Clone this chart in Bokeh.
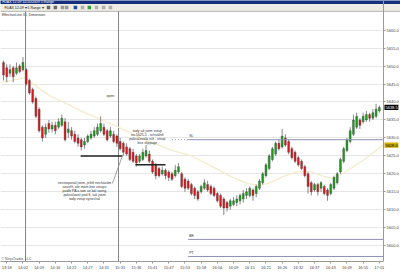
from bokeh.plotting import figure
from bokeh.models import Range1d, FixedTicker, NumeralTickFormatter, ColumnDataSource
from bokeh.core.properties import value
from bokeh.embed import file_html
from bokeh.resources import INLINE

# ---------------- data ----------------
opens = [5651.0, 5649.5, 5648.0, 5649.5, 5648.0, 5650.0, 5649.0, 5649.0, 5646.0, 5643.5,
         5641.0, 5638.0, 5633.0, 5631.0, 5634.0, 5632.5, 5633.5, 5633.0, 5633.5, 5634.5,
         5631.5, 5632.0, 5631.0, 5630.0, 5629.5, 5628.0, 5629.0, 5630.0, 5630.5, 5631.0,
         5632.0, 5633.0, 5632.0, 5630.5, 5631.0, 5630.5, 5629.0, 5628.5, 5627.5, 5627.0,
         5626.0, 5625.0, 5623.5, 5624.0, 5625.0, 5625.5, 5623.5, 5622.5, 5621.5, 5620.0,
         5621.0, 5620.5, 5620.0, 5619.5, 5620.5, 5620.0, 5618.5, 5618.0, 5617.0, 5616.0,
         5615.0, 5615.0, 5616.0, 5617.0, 5616.5, 5616.0, 5614.5, 5614.0, 5613.0, 5612.0,
         5611.0, 5611.5, 5612.0, 5612.5, 5613.0, 5614.0, 5614.0, 5615.5, 5614.5, 5616.0,
         5617.5, 5619.5, 5621.5, 5624.0, 5625.5, 5628.5, 5627.5, 5630.0, 5629.0, 5627.0,
         5626.0, 5624.5, 5623.5, 5622.0, 5620.0, 5617.5, 5615.5, 5617.0, 5616.0, 5616.5,
         5615.5, 5614.5, 5616.0, 5617.5, 5620.5, 5623.5, 5626.5, 5629.0, 5631.0, 5633.0,
         5635.0, 5634.5, 5635.0, 5636.5, 5635.5, 5636.0, 5637.5]
highs = [5651.5, 5650.5, 5650.5, 5650.0, 5651.0, 5650.5, 5652.5, 5649.5, 5646.5, 5644.0,
         5641.5, 5638.5, 5633.5, 5634.0, 5635.0, 5634.5, 5634.5, 5635.5, 5636.5, 5635.5,
         5634.5, 5633.0, 5632.0, 5631.0, 5630.0, 5630.0, 5631.0, 5632.0, 5633.0, 5634.0,
         5636.0, 5634.0, 5632.5, 5633.0, 5632.0, 5631.0, 5630.0, 5629.0, 5628.5, 5627.5,
         5627.0, 5625.5, 5625.5, 5627.0, 5628.0, 5626.5, 5624.0, 5623.0, 5622.0, 5622.0,
         5621.5, 5621.0, 5620.5, 5622.5, 5623.0, 5620.5, 5619.0, 5618.5, 5617.5, 5616.5,
         5615.5, 5617.0, 5618.5, 5618.0, 5617.0, 5616.5, 5615.0, 5614.5, 5613.5, 5612.5,
         5613.0, 5613.5, 5614.0, 5614.5, 5615.5, 5616.0, 5616.5, 5616.0, 5617.0, 5618.5,
         5620.5, 5623.0, 5625.5, 5627.5, 5629.0, 5629.5, 5632.5, 5631.0, 5629.5, 5627.5,
         5626.5, 5625.0, 5624.0, 5622.5, 5620.5, 5618.0, 5617.5, 5617.5, 5618.0, 5617.0,
         5616.0, 5617.5, 5619.5, 5620.5, 5624.5, 5627.5, 5630.0, 5633.0, 5636.5, 5637.0,
         5635.5, 5637.0, 5637.5, 5637.0, 5638.0, 5639.5, 5639.0]
lows = [5646.0, 5645.5, 5647.0, 5645.5, 5647.5, 5648.0, 5648.5, 5644.5, 5642.0, 5639.5,
        5635.5, 5631.5, 5629.0, 5630.0, 5631.5, 5631.5, 5631.0, 5632.5, 5633.0, 5629.0,
        5630.0, 5629.5, 5628.5, 5627.5, 5626.5, 5627.0, 5628.5, 5629.5, 5630.0, 5630.5,
        5631.5, 5630.5, 5629.0, 5630.0, 5628.5, 5627.5, 5626.5, 5625.0, 5625.0, 5623.5,
        5623.0, 5622.0, 5623.0, 5623.5, 5624.5, 5623.0, 5620.0, 5618.5, 5619.0, 5619.5,
        5618.5, 5618.0, 5618.0, 5619.0, 5620.0, 5616.0, 5615.0, 5615.5, 5614.0, 5613.0,
        5612.5, 5614.5, 5615.5, 5615.0, 5614.0, 5613.5, 5612.0, 5610.5, 5608.5, 5609.5,
        5610.0, 5611.0, 5611.0, 5611.5, 5612.0, 5613.0, 5613.5, 5612.5, 5613.5, 5615.5,
        5617.0, 5619.0, 5621.0, 5623.5, 5625.0, 5626.5, 5627.0, 5627.5, 5625.5, 5624.0,
        5623.0, 5622.0, 5621.0, 5619.0, 5614.5, 5614.0, 5615.0, 5614.0, 5615.0, 5614.0,
        5612.5, 5614.0, 5615.5, 5617.0, 5620.0, 5623.0, 5626.0, 5628.5, 5630.5, 5632.5,
        5632.5, 5634.0, 5634.5, 5634.5, 5635.0, 5635.5, 5637.0]
closes = [5647.5, 5647.0, 5649.0, 5647.0, 5649.5, 5648.5, 5651.0, 5645.0, 5642.5, 5640.0,
          5636.0, 5632.0, 5630.0, 5633.0, 5632.5, 5633.5, 5632.0, 5634.5, 5635.5, 5629.5,
          5632.5, 5630.5, 5629.0, 5628.5, 5627.5, 5629.0, 5630.5, 5631.0, 5632.0, 5633.0,
          5634.0, 5631.0, 5629.5, 5632.0, 5629.0, 5628.5, 5627.0, 5626.0, 5625.5, 5624.0,
          5623.5, 5623.0, 5625.0, 5626.0, 5626.5, 5623.5, 5620.5, 5619.5, 5619.5, 5621.0,
          5619.5, 5619.0, 5618.5, 5621.0, 5622.0, 5616.5, 5616.0, 5616.0, 5614.5, 5614.0,
          5613.0, 5616.5, 5617.5, 5615.5, 5614.5, 5614.0, 5612.5, 5611.0, 5610.5, 5610.5,
          5612.5, 5612.5, 5613.0, 5614.0, 5614.5, 5615.0, 5616.0, 5614.0, 5616.5, 5618.0,
          5620.0, 5622.5, 5625.0, 5627.0, 5628.5, 5627.0, 5630.5, 5628.0, 5626.0, 5624.5,
          5623.5, 5622.5, 5621.5, 5619.5, 5616.5, 5615.0, 5617.0, 5615.0, 5617.5, 5614.5,
          5614.0, 5617.0, 5619.0, 5620.0, 5624.0, 5627.0, 5629.5, 5632.0, 5635.0, 5636.0,
          5633.5, 5636.0, 5636.5, 5635.5, 5637.0, 5638.0, 5638.5]

# moving average line (bar position, price)
ma_bar = [-0.9, 6.8, 9.3, 14.5, 19.8, 24.7, 29.9, 35.5, 42.3, 51.5, 57.7, 63.9, 70.1,
          75.3, 79.3, 82.4, 86.4, 90.7, 94.8, 98.8, 101.9, 104.9, 107.1, 111.7, 117.28]
ma_val = [5645.4, 5646.8, 5644.9, 5641.6, 5639.4, 5637.2, 5635.2, 5633.0, 5630.0, 5626.7,
          5625.1, 5622.3, 5619.3, 5617.3, 5616.8, 5617.6, 5619.3, 5620.6, 5620.6, 5619.3,
          5618.7, 5620.1, 5621.5, 5624.2, 5628.1]

price_ticks = [5600, 5605, 5610, 5615, 5620, 5625, 5630, 5635, 5640, 5645, 5650, 5655, 5660]
time_tick_bars = [1, 6, 11, 16, 21, 26, 31, 36, 41, 46, 51, 56, 61, 66, 71, 76, 81, 86,
                  91, 96, 101, 106, 111, 116]
time_labels = ["13:18", "14:02", "14:09", "14:16", "14:22", "14:27", "14:31", "15:31",
               "15:36", "15:41", "15:47", "15:53", "15:58", "16:04", "16:09", "16:15",
               "16:21", "16:26", "16:32", "16:37", "16:43", "16:49", "16:55", "17:01"]

session_breaks = [6.8, 35.5]
sl_price, be_price, pt_price = 5629.5, 5601.75, 5597.0
entry_lines_price = [5625.0, 5622.5]
last_price, ma_last = 5638.5, 5628.0

note1 = ["nevstupoval jsem, ještě nechávám",
         "uzavřít, ale mám bez vstupu",
         "podle PA a tam se bál swing",
         "pokračovat pod S, tak jsem",
         "tady vstup vynechal"]
note2 = ["tady už jsem vstup",
         "na 5625.5 - schválně",
         "pokračovalo níž - vstup",
         "bez slippage"]

# ---------------- figure ----------------
FONT = value("Liberation Sans")
AX = 117.28          # bar position of the price axis (right edge of chart area)
p = figure(width=400, height=272, output_backend="svg", toolbar_location=None,
           x_range=Range1d(-0.926, 122.53), y_range=Range1d(5595.6, 5668.25),
           y_axis_location="right", min_border=0, min_border_bottom=8)
p.outline_line_color = None
p.background_fill_color = "white"
p.border_fill_color = "white"

# price axis drawn at a fixed location inside the frame
p.yaxis.fixed_location = AX
p.yaxis.ticker = FixedTicker(ticks=price_ticks)
p.yaxis.formatter = NumeralTickFormatter(format="0.0")
p.yaxis.major_label_text_font_size = "4px"
p.yaxis.major_label_text_font = "Liberation Sans"
p.yaxis.major_label_text_color = "#444444"
p.yaxis.major_tick_out = 2
p.yaxis.major_tick_in = 0
p.yaxis.minor_tick_out = 0
p.yaxis.minor_tick_in = 0
p.yaxis.major_label_standoff = 1
p.yaxis.axis_line_color = "#9a9a9a"
p.yaxis.major_tick_line_color = "#9a9a9a"

p.xaxis.ticker = FixedTicker(ticks=time_tick_bars)
p.xaxis.major_label_overrides = {b: t for b, t in zip(time_tick_bars, time_labels)}
p.xaxis.major_label_text_font_size = "4px"
p.xaxis.major_label_text_font = "Liberation Sans"
p.xaxis.major_label_text_color = "#444444"
p.xaxis.major_tick_out = 2
p.xaxis.major_tick_in = 0
p.xaxis.minor_tick_out = 0
p.xaxis.minor_tick_in = 0
p.xaxis.major_label_standoff = 1
p.xaxis.axis_line_color = "#9a9a9a"
p.xaxis.major_tick_line_color = "#9a9a9a"
p.xaxis.bounds = (-0.926, AX)

p.xgrid.grid_line_color = None
p.ygrid.ticker = FixedTicker(ticks=price_ticks)
p.ygrid.grid_line_color = "#e6e6e6"

chart_top = 5665.23
# blank strip behind the price labels (hides grid lines there)
p.quad(left=AX, right=130, bottom=5590, top=chart_top, fill_color="white", line_color=None)

# header (window title bar + toolbar), drawn above the chart area
p.quad(left=-2, right=130, bottom=5667.3, top=5668.4, fill_color="#14307c", line_color=None)
p.quad(left=-2, right=130, bottom=chart_top, top=5667.3, fill_color="#eeece4", line_color=None)
p.segment(x0=-2, x1=130, y0=chart_top, y1=chart_top, line_color="#b4b4b4", line_width=1)
p.text(x=[-0.4], y=[5667.8], text=["FDAX 12-09  11/10/2009 5 Range"], text_font=FONT,
       text_font_size="3.5px", text_color="white", text_baseline="middle")
p.text(x=[0.3, 7.4], y=[5666.3, 5666.3], text=["FDAX 12-09 \u25be", "5 Range \u25be"],
       text_font=FONT, text_font_size="3.5px", text_color="#222222", text_baseline="middle")
icon_x = [13.9, 16.0, 18.2, 19.5, 22.2, 24.4, 26.5, 28.7, 30.9, 33.0]
icon_c = ["#6a6a6a", "#6a6a6a", "#9a9a9a", "#9a9a9a", "#1d4f9a", "#b0b0b0", "#3aa03a",
          "#b0b0b0", "#b0b0b0", "#b0b0b0"]
p.scatter(x=icon_x, y=[5666.3] * len(icon_x), marker="square", size=3.5,
          fill_color=icon_c, line_color=None)
p.text(x=[-0.5], y=[5664.1], text=["EffectiveLine 34, Dimension"], text_font=FONT,
       text_font_size="3.5px", text_color="#333333", text_baseline="middle")

# session separators
p.segment(x0=session_breaks, x1=session_breaks, y0=[5590] * 2, y1=[chart_top] * 2,
          line_color="#858585", line_width=1)

# moving average
p.line(ma_bar, ma_val, line_color="#f3ecca", line_width=1.3)

# candles
idx = list(range(len(opens)))
colors = ["#1e9e1e" if c >= o else "#e3171c" for o, c in zip(opens, closes)]
src = ColumnDataSource(dict(x=idx, o=opens, h=highs, l=lows, c=closes,
                            top=[max(o, c) for o, c in zip(opens, closes)],
                            bot=[min(o, c) for o, c in zip(opens, closes)],
                            col=colors))
p.segment(x0="x", x1="x", y0="l", y1="h", source=src, line_color="#555555", line_width=0.7)
p.vbar(x="x", top="top", bottom="bot", width=0.6, source=src,
       fill_color="col", line_color="#3a3a3a", line_width=0.35)

# trade annotations
p.segment(x0=[23.8, 40.7], x1=[36.7, 50.0], y0=entry_lines_price, y1=entry_lines_price,
          line_color="#222222", line_width=1.5)
p.segment(x0=[33.6], x1=[36.7], y0=[5617.3], y1=[5625.0], line_color="#8a8a8a", line_width=0.8)

p.segment(x0=[52.0], x1=[57.0], y0=[sl_price], y1=[sl_price], line_color="#9a9ab8",
          line_width=1, line_dash="1 2")
p.segment(x0=[57.0, 57.0, 57.0], x1=[AX, AX, AX], y0=[sl_price, be_price, pt_price],
          y1=[sl_price, be_price, pt_price], line_color="#9090b0", line_width=1)
p.text(x=[57.3, 57.3, 57.3], y=[sl_price + 0.5, be_price + 0.5, pt_price + 0.5],
       text=["SL", "BE", "PT"], text_font=FONT, text_font_size="3.5px",
       text_color="#333333", text_baseline="bottom")

p.text(x=[33.0], y=[5641.6], text=["open"], text_font=FONT, text_font_size="3.5px",
       text_color="#333333", text_align="center", text_baseline="middle")
p.text(x=[25.0] * 5, y=[5617.4, 5616.3, 5615.2, 5614.1, 5613.0], text=note1,
       text_font=FONT, text_font_size="3.5px", text_color="#333333",
       text_align="center", text_baseline="middle")
p.text(x=[44.4] * 4, y=[5631.9, 5630.8, 5629.8, 5628.6], text=note2,
       text_font=FONT, text_font_size="3.5px", text_color="#333333",
       text_align="center", text_baseline="middle")
p.text(x=[-0.6], y=[5596.3], text=["\u00a9 NinjaTrader, LLC"], text_font=FONT,
       text_font_size="3.5px", text_color="#555555", text_baseline="middle")

# price markers on the axis (last price, MA value)
p.quad(left=[AX + 0.3, AX + 0.3], right=[AX + 4.6, AX + 4.6],
       bottom=[last_price - 0.75, ma_last - 0.75], top=[last_price + 0.75, ma_last + 0.75],
       fill_color=["black", "#cdb000"], line_color=None)
p.text(x=[AX + 0.6, AX + 0.6], y=[last_price, ma_last], text=["5638.5", "5628.0"],
       text_font=FONT, text_font_size="4px", text_color=["white", "black"],
       text_baseline="middle")

open("out.html", "w").write(file_html(p, INLINE))
